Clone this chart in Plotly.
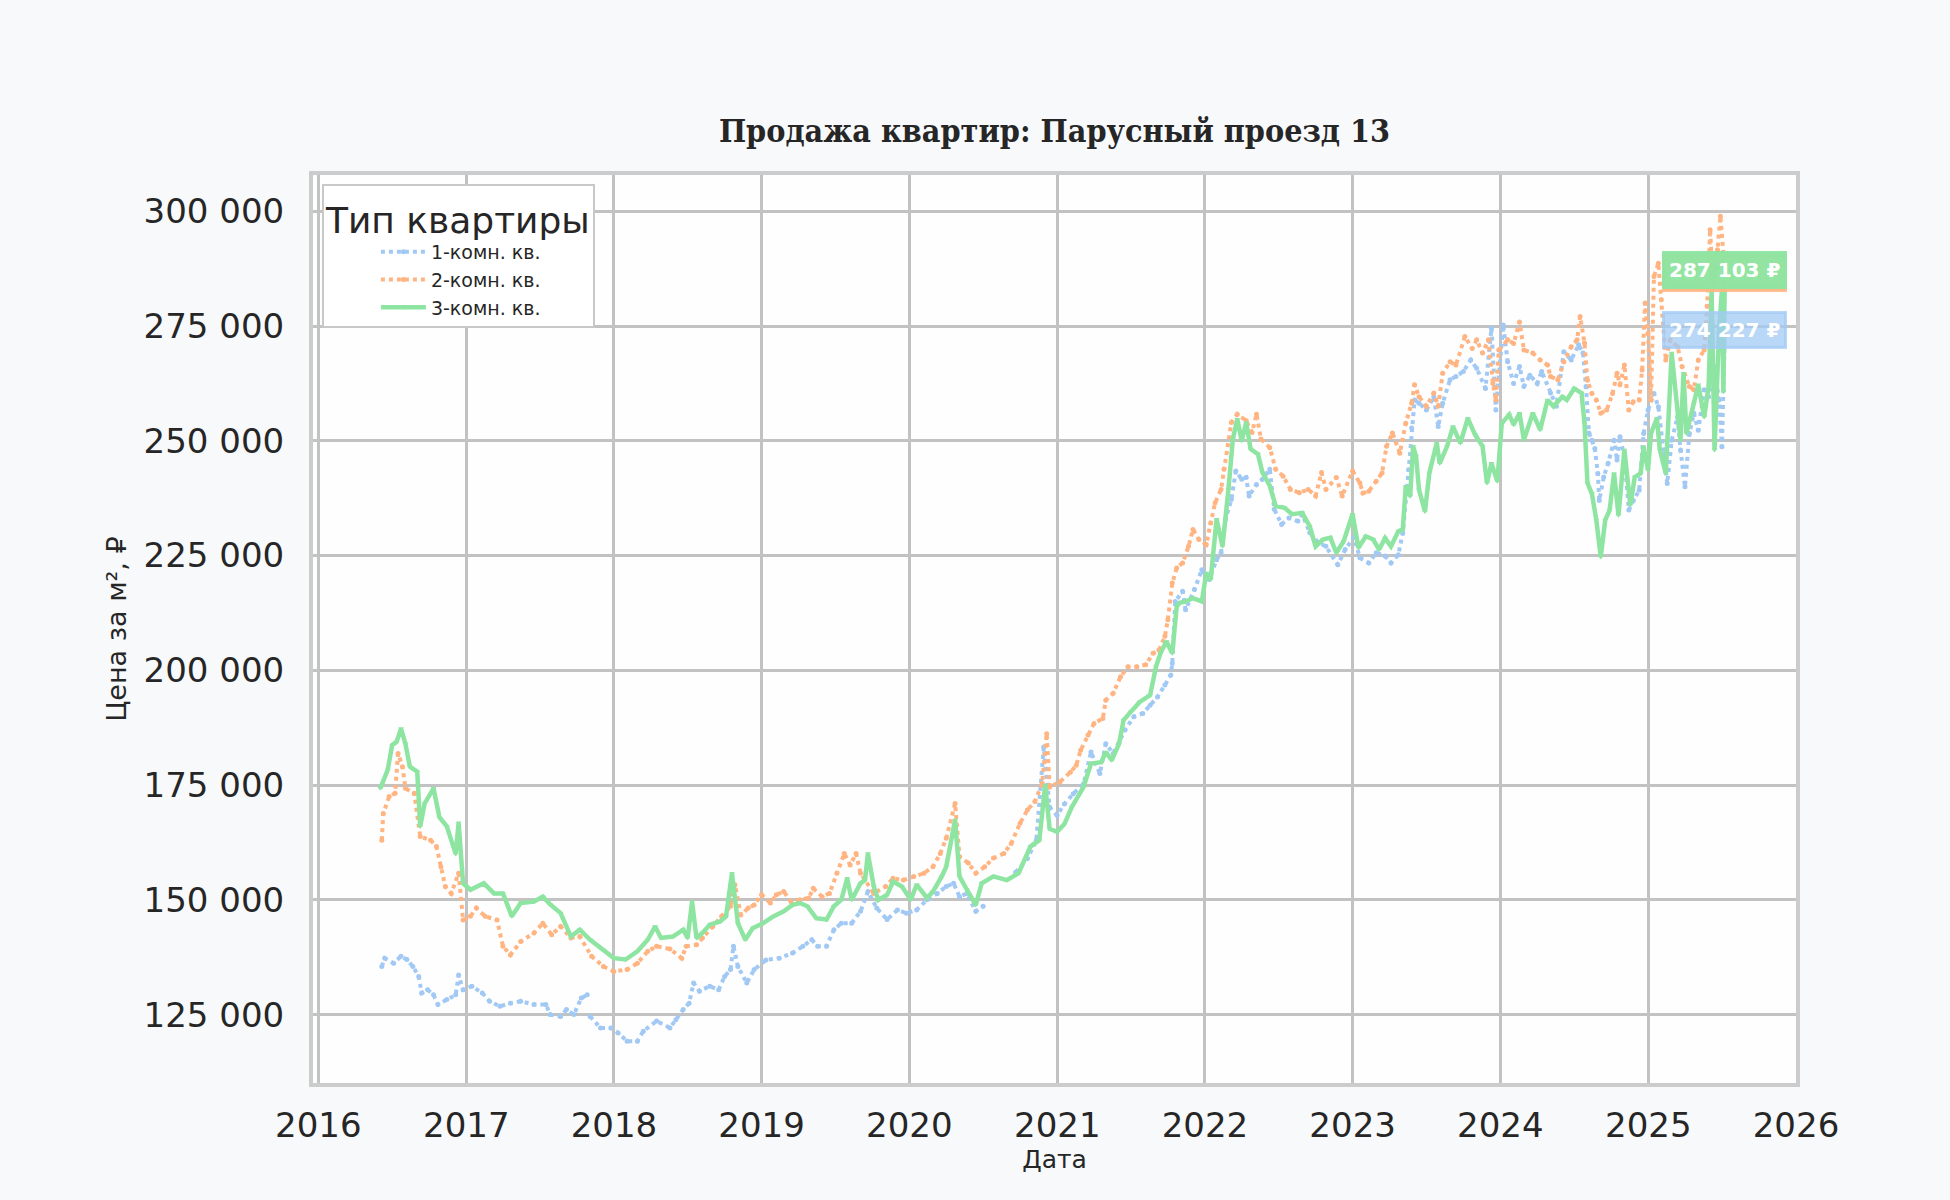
import pandas as pd
import plotly.graph_objects as go

# ===== data, years as decimal, prices in thousand RUB =====
yr_1k = [2016.43, 2016.45, 2016.51, 2016.56, 2016.60, 2016.64, 2016.68, 2016.70, 2016.74, 2016.78,
         2016.81, 2016.87, 2016.93, 2016.95, 2016.98, 2017.04, 2017.11, 2017.16, 2017.23, 2017.30,
         2017.37, 2017.46, 2017.54, 2017.57, 2017.64, 2017.68, 2017.73, 2017.78, 2017.82, 2017.83,
         2017.84, 2017.91, 2017.98, 2018.03, 2018.09, 2018.16, 2018.20, 2018.29, 2018.38, 2018.42,
         2018.47, 2018.51, 2018.54, 2018.58, 2018.65, 2018.71, 2018.75, 2018.79, 2018.81, 2018.84,
         2018.90, 2018.95, 2019.03, 2019.12, 2019.21, 2019.28, 2019.34, 2019.38, 2019.44, 2019.49,
         2019.54, 2019.61, 2019.67, 2019.72, 2019.78, 2019.85, 2019.92, 2019.98, 2020.05, 2020.12,
         2020.19, 2020.25, 2020.30, 2020.34, 2020.39, 2020.45, 2020.50, 2020.60, 2020.72, 2020.80,
         2020.86, 2020.91, 2020.95, 2021.00, 2021.05, 2021.11, 2021.18, 2021.23, 2021.29, 2021.33,
         2021.38, 2021.46, 2021.52, 2021.58, 2021.63, 2021.68, 2021.73, 2021.77, 2021.78, 2021.80,
         2021.85, 2021.87, 2021.93, 2021.98, 2022.03, 2022.08, 2022.11, 2022.14, 2022.18, 2022.21,
         2022.25, 2022.28, 2022.30, 2022.35, 2022.39, 2022.44, 2022.47, 2022.52, 2022.57, 2022.63,
         2022.66, 2022.71, 2022.77, 2022.82, 2022.90, 2022.95, 2023.01, 2023.05, 2023.11, 2023.16,
         2023.22, 2023.26, 2023.31, 2023.34, 2023.38, 2023.40, 2023.42, 2023.45, 2023.50, 2023.55,
         2023.58, 2023.61, 2023.66, 2023.70, 2023.75, 2023.80, 2023.84, 2023.90, 2023.94, 2023.97,
         2024.02, 2024.05, 2024.09, 2024.13, 2024.16, 2024.20, 2024.25, 2024.28, 2024.34, 2024.38,
         2024.43, 2024.48, 2024.53, 2024.56, 2024.58, 2024.60, 2024.62, 2024.64, 2024.66, 2024.67,
         2024.70, 2024.73, 2024.77, 2024.79, 2024.81, 2024.84, 2024.87, 2024.90, 2024.94, 2024.97,
         2025.00, 2025.04, 2025.07, 2025.11, 2025.13, 2025.16, 2025.20, 2025.22, 2025.25, 2025.28,
         2025.31, 2025.34, 2025.38, 2025.41, 2025.45, 2025.48, 2025.50, 2025.52]
price_1k = [135.5, 137.3, 136.2, 137.7, 137.0, 135.5, 133.3, 129.7, 130.4, 129.3,
            127.2, 128.3, 129.3, 133.6, 130.4, 131.2, 129.7, 127.9, 126.8, 127.5,
            127.9, 127.2, 127.2, 125.0, 124.6, 126.1, 125.0, 128.6, 129.3, None,
            124.6, 122.1, 122.1, 121.0, 119.2, 119.2, 121.4, 123.6, 122.1, 123.9,
            126.1, 127.5, 131.9, 130.1, 131.2, 130.4, 133.3, 134.8, 139.9, 135.5,
            131.9, 134.8, 136.9, 137.3, 138.4, 139.9, 141.3, 139.9, 139.9, 143.5,
            144.9, 144.9, 147.5, 151.8, 148.2, 145.7, 147.8, 147.1, 147.8, 150.0,
            151.4, 152.9, 153.6, 150.7, 151.4, 147.5, 148.6, None, 156.0, 159.0,
            163.0, 183.3, 170.2, 168.4, 170.9, 173.1, 175.3, 182.2, 177.5, 184.0,
            181.9, 187.0, 189.9, 190.6, 192.4, 194.2, 196.8, 199.0, 201.5, 215.0,
            217.2, 213.2, 217.6, 221.9, 219.8, 224.1, 225.6, 232.9, 237.2, 243.4,
            241.6, 242.0, 238.0, 240.5, 241.6, 243.8, 235.1, 231.8, 233.2, 232.5,
            234.0, 230.0, 227.8, 227.0, 223.0, 226.3, 229.0, 224.5, 223.4, 225.6,
            224.9, 223.4, 225.2, 229.9, 243.7, 252.8, 258.9, 258.2, 256.7, 259.6,
            253.1, 258.2, 263.3, 264.0, 265.1, 267.6, 265.8, 261.4, 274.5, 256.7,
            275.2, 267.2, 262.5, 266.2, 261.8, 264.3, 262.5, 265.1, 260.4, 257.5,
            269.4, 267.6, 270.9, 269.1, 261.8, 251.7, 250.1, 248.3, 242.9, 237.0,
            242.1, 245.1, 250.1, 245.8, 250.9, 246.5, 234.9, 237.0, 239.2, 251.6,
            256.7, 260.3, 257.4, 247.2, 240.7, 250.1, 255.2, 248.0, 240.0, 251.6,
            256.0, 252.3, 261.1, 259.6, 266.2, 258.9, 248.7, 274.227]

yr_2k = [2016.43, 2016.44, 2016.48, 2016.52, 2016.54, 2016.57, 2016.59, 2016.65, 2016.69, 2016.76,
         2016.80, 2016.83, 2016.86, 2016.90, 2016.95, 2016.98, 2017.03, 2017.07, 2017.13, 2017.21,
         2017.25, 2017.30, 2017.37, 2017.46, 2017.52, 2017.58, 2017.64, 2017.71, 2017.77, 2017.85,
         2017.93, 2018.00, 2018.09, 2018.16, 2018.23, 2018.29, 2018.38, 2018.46, 2018.49, 2018.56,
         2018.60, 2018.67, 2018.73, 2018.79, 2018.82, 2018.86, 2018.91, 2018.95, 2019.00, 2019.06,
         2019.10, 2019.15, 2019.20, 2019.26, 2019.32, 2019.35, 2019.41, 2019.46, 2019.51, 2019.56,
         2019.60, 2019.64, 2019.67, 2019.76, 2019.84, 2019.89, 2019.96, 2020.03, 2020.10, 2020.16,
         2020.21, 2020.25, 2020.31, 2020.34, 2020.40, 2020.45, 2020.51, 2020.57, 2020.64, 2020.69,
         2020.75, 2020.80, 2020.85, 2020.90, 2020.93, 2020.95, 2021.02, 2021.09, 2021.13, 2021.16,
         2021.21, 2021.25, 2021.31, 2021.33, 2021.38, 2021.43, 2021.48, 2021.54, 2021.60, 2021.65,
         2021.69, 2021.73, 2021.75, 2021.78, 2021.81, 2021.85, 2021.89, 2021.92, 2021.96, 2022.01,
         2022.04, 2022.07, 2022.11, 2022.13, 2022.18, 2022.22, 2022.28, 2022.32, 2022.35, 2022.38,
         2022.44, 2022.48, 2022.53, 2022.58, 2022.64, 2022.70, 2022.75, 2022.79, 2022.82, 2022.89,
         2022.93, 2023.00, 2023.05, 2023.07, 2023.11, 2023.16, 2023.20, 2023.23, 2023.27, 2023.32,
         2023.36, 2023.40, 2023.42, 2023.45, 2023.50, 2023.55, 2023.58, 2023.61, 2023.66, 2023.70,
         2023.76, 2023.81, 2023.84, 2023.88, 2023.92, 2023.95, 2023.97, 2023.99, 2024.05, 2024.09,
         2024.13, 2024.16, 2024.22, 2024.27, 2024.32, 2024.34, 2024.39, 2024.43, 2024.48, 2024.52,
         2024.54, 2024.57, 2024.59, 2024.62, 2024.65, 2024.68, 2024.72, 2024.76, 2024.79, 2024.81,
         2024.84, 2024.87, 2024.90, 2024.94, 2024.96, 2024.98, 2025.00, 2025.02, 2025.04, 2025.07,
         2025.09, 2025.12, 2025.15, 2025.20, 2025.23, 2025.28, 2025.31, 2025.34, 2025.38, 2025.40,
         2025.42, 2025.44, 2025.47, 2025.49, 2025.52]
price_2k = [163.0, 168.8, 172.5, 173.2, 181.9, 179.0, 174.3, 173.2, 163.8, 163.0,
            161.6, 157.2, 152.9, 151.4, 155.8, 145.6, 146.4, 148.2, 146.4, 145.6,
            139.9, 138.0, 140.9, 142.8, 144.9, 142.4, 144.2, 141.7, 142.0, 137.7,
            135.5, 134.4, 134.8, 136.2, 138.8, 139.9, 139.3, 137.3, 139.9, 140.2,
            141.7, 144.2, 146.4, 148.6, 153.3, 146.7, 148.2, 148.9, 151.1, 149.3,
            151.1, 151.8, 149.6, 150.0, 150.4, 152.5, 150.7, 151.4, 155.8, 160.1,
            157.6, 160.1, 155.8, 151.4, 152.9, 154.7, 154.3, 155.1, 155.8, 157.2,
            160.1, 163.4, 171.0, 159.4, 158.0, 155.8, 157.2, 159.1, 160.1, 162.3,
            166.7, 169.6, 171.4, 175.4, 186.2, 174.6, 175.7, 177.8, 179.3, 182.6,
            185.9, 188.4, 189.5, 193.5, 195.0, 198.6, 200.8, 200.8, 201.2, 203.7,
            204.4, 207.4, 211.0, 219.0, 222.3, 223.4, 227.0, 230.7, 228.5, 227.4,
            232.1, 236.5, 239.4, 243.8, 254.0, 255.8, 254.4, 251.8, 255.8, 250.4,
            248.5, 243.8, 242.3, 239.4, 238.7, 239.4, 238.0, 243.1, 239.4, 242.0,
            238.0, 243.4, 240.8, 238.6, 239.0, 241.2, 243.0, 248.8, 251.7, 247.3,
            253.8, 258.2, 262.2, 259.6, 257.5, 260.4, 257.5, 264.7, 267.2, 266.5,
            272.7, 270.1, 272.0, 269.1, 272.0, 262.5, 258.9, 269.8, 272.0, 271.2,
            275.9, 269.8, 269.1, 267.6, 266.5, 264.0, 263.3, 267.2, 270.5, 272.0,
            277.1, 271.3, 263.2, 260.3, 258.9, 256.0, 256.7, 260.3, 264.7, 262.2,
            266.5, 256.7, 258.5, 258.9, 265.4, 280.0, 273.4, 258.9, 285.8, 288.7,
            280.7, 267.6, 272.0, 270.5, 266.2, 261.8, 261.1, 267.6, 269.8, 279.3,
            296.0, 283.6, 291.6, 298.9, 286.614]

yr_3k = [2016.42, 2016.47, 2016.50, 2016.53, 2016.56, 2016.59, 2016.62, 2016.67, 2016.69, 2016.72,
         2016.78, 2016.82, 2016.87, 2016.93, 2016.95, 2016.98, 2017.03, 2017.12, 2017.19, 2017.25,
         2017.31, 2017.37, 2017.46, 2017.52, 2017.57, 2017.64, 2017.71, 2017.77, 2017.84, 2017.93,
         2018.00, 2018.08, 2018.16, 2018.23, 2018.28, 2018.32, 2018.40, 2018.47, 2018.50, 2018.53,
         2018.56, 2018.60, 2018.65, 2018.72, 2018.76, 2018.80, 2018.84, 2018.89, 2018.94, 2019.01,
         2019.08, 2019.15, 2019.21, 2019.26, 2019.31, 2019.37, 2019.44, 2019.49, 2019.54, 2019.58,
         2019.61, 2019.67, 2019.70, 2019.72, 2019.76, 2019.79, 2019.85, 2019.89, 2019.95, 2020.01,
         2020.05, 2020.12, 2020.16, 2020.22, 2020.25, 2020.31, 2020.34, 2020.39, 2020.45, 2020.49,
         2020.57, 2020.66, 2020.74, 2020.82, 2020.88, 2020.92, 2020.95, 2021.00, 2021.05, 2021.10,
         2021.18, 2021.23, 2021.30, 2021.33, 2021.37, 2021.42, 2021.45, 2021.50, 2021.56, 2021.63,
         2021.67, 2021.70, 2021.74, 2021.78, 2021.81, 2021.83, 2021.87, 2021.92, 2021.98, 2022.01,
         2022.04, 2022.08, 2022.12, 2022.16, 2022.19, 2022.22, 2022.25, 2022.28, 2022.31, 2022.36,
         2022.39, 2022.44, 2022.48, 2022.54, 2022.59, 2022.66, 2022.71, 2022.75, 2022.80, 2022.85,
         2022.89, 2022.94, 2023.00, 2023.04, 2023.09, 2023.14, 2023.18, 2023.22, 2023.26, 2023.31,
         2023.34, 2023.36, 2023.39, 2023.41, 2023.43, 2023.45, 2023.49, 2023.52, 2023.57, 2023.59,
         2023.64, 2023.68, 2023.73, 2023.78, 2023.83, 2023.88, 2023.91, 2023.94, 2023.98, 2024.01,
         2024.06, 2024.09, 2024.13, 2024.16, 2024.22, 2024.27, 2024.32, 2024.36, 2024.42, 2024.45,
         2024.50, 2024.55, 2024.57, 2024.59, 2024.62, 2024.65, 2024.68, 2024.71, 2024.74, 2024.77,
         2024.80, 2024.84, 2024.88, 2024.91, 2024.95, 2024.97, 2025.00, 2025.02, 2025.06, 2025.08,
         2025.12, 2025.16, 2025.20, 2025.22, 2025.24, 2025.26, 2025.31, 2025.34, 2025.38, 2025.41,
         2025.43, 2025.45, 2025.48, 2025.50, 2025.51, 2025.52]
price_3k = [174.3, 178.3, 183.7, 184.4, 187.3, 184.0, 179.0, 177.9, 166.0, 171.0,
            174.3, 168.0, 166.0, 160.0, 166.8, 153.6, 152.2, 153.6, 151.4, 151.4,
            146.4, 149.3, 149.6, 150.7, 149.0, 147.1, 142.0, 143.5, 141.3, 139.1,
            137.3, 137.0, 138.8, 141.3, 144.2, 141.7, 142.0, 143.5, 141.7, 149.6,
            141.7, 142.8, 144.6, 145.3, 146.4, 155.8, 144.9, 141.3, 143.8, 144.9,
            146.4, 147.5, 148.9, 149.3, 148.6, 146.0, 145.7, 148.6, 150.0, 154.7,
            150.0, 153.6, 154.3, 160.1, 152.9, 150.0, 151.1, 154.0, 152.9, 150.0,
            153.3, 150.4, 151.8, 155.1, 157.2, 167.4, 155.1, 152.2, 148.9, 153.6,
            155.1, 154.3, 155.8, 161.6, 163.0, 175.0, 165.5, 164.8, 166.5, 170.2,
            174.6, 179.7, 180.0, 182.2, 180.4, 184.0, 189.1, 191.0, 193.1, 194.6,
            200.8, 203.7, 206.3, 203.7, 213.9, 214.7, 215.0, 215.7, 215.0, 221.2,
            219.8, 232.9, 227.0, 239.4, 250.4, 254.7, 250.0, 254.0, 248.2, 247.1,
            243.1, 240.2, 235.8, 235.4, 234.0, 234.3, 231.4, 227.0, 228.5, 228.9,
            225.6, 228.1, 234.0, 226.7, 229.2, 228.5, 226.3, 228.8, 227.0, 230.3,
            230.7, 240.1, 237.9, 248.8, 246.6, 239.3, 234.6, 243.0, 249.5, 245.1,
            248.8, 253.1, 249.5, 254.9, 251.3, 248.8, 240.8, 245.1, 241.2, 253.8,
            255.7, 253.5, 256.0, 250.2, 256.0, 252.4, 258.9, 257.5, 259.6, 258.9,
            261.4, 260.4, 253.8, 240.8, 238.5, 232.7, 224.7, 232.7, 234.9, 242.9,
            233.8, 248.0, 236.0, 242.1, 242.9, 248.7, 243.6, 251.6, 254.9, 248.0,
            242.9, 269.1, 255.2, 250.1, 264.7, 251.6, 258.2, 262.2, 255.2, 261.8,
            282.9, 248.0, 273.4, 282.9, 260.7, 287.103]

series_names = ["1-комн. кв.", "2-комн. кв.", "3-комн. кв."]
colors = ["#a1c9f4", "#ffb482", "#8de5a1"]
label_bg = ["rgba(161,201,244,0.75)", "rgba(255,180,130,0.85)", "rgba(141,229,161,0.95)"]


def to_dates(years):
    base = pd.Timestamp("2016-01-01")
    return [base + pd.Timedelta(days=(y - 2016) * 365.25) for y in years]


def to_rub(vals):
    return [None if v is None else v * 1000 for v in vals]


fig = go.Figure()

styles = [
    dict(dash="dot", width=4, symbol="circle"),
    dict(dash="dot", width=4, symbol="circle"),
    dict(dash="solid", width=4.5, symbol="triangle-down"),
]
all_years = [yr_1k, yr_2k, yr_3k]
all_prices = [price_1k, price_2k, price_3k]

for name, col, st, yrs, vals in zip(series_names, colors, styles, all_years, all_prices):
    fig.add_trace(go.Scatter(
        x=to_dates(yrs), y=to_rub(vals), name=name,
        mode="lines+markers",
        line=dict(color=col, width=st["width"], dash=st["dash"]),
        marker=dict(color=col, size=5, symbol=st["symbol"]),
        connectgaps=False,
    ))

# ===== last value labels (orange under green, like the source) =====
for i in [0, 1, 2]:
    last_x = to_dates(all_years[i])[-1]
    last_y = all_prices[i][-1] * 1000
    txt = f"{round(last_y):,}".replace(",", " ") + " ₽"
    fig.add_annotation(
        x=last_x, y=last_y, text=f"<b>{txt}</b>", showarrow=False,
        xanchor="center", yanchor="middle",
        font=dict(family="DejaVu Sans", size=20, color="white"),
        bgcolor=label_bg[i], bordercolor=label_bg[i], borderwidth=3, borderpad=4,
    )

fig.update_layout(
    width=1950, height=1200,
    paper_bgcolor="#f8f9fb",
    plot_bgcolor="#fefefe",
    separators=", ",
    margin=dict(l=313, r=154, t=175, b=117),
    font=dict(family="DejaVu Sans", color="#262626"),
    title=dict(
        text="Продажа квартир: Парусный проезд 13",
        x=0.5, xref="paper", xanchor="center",
        y=1 - 131 / 1200, yanchor="middle",
        font=dict(family="DejaVu Serif Condensed", size=32, color="#262626", weight="bold"),
    ),
    legend=dict(
        x=0.006, y=0.99, xanchor="left", yanchor="top",
        bgcolor="white", bordercolor="#c8c8c8", borderwidth=2,
        title=dict(text="Тип квартиры", font=dict(size=36, color="#262626")),
        font=dict(size=19, color="#262626"),
        itemwidth=45, indentation=52,
    ),
    showlegend=True,
)

fig.update_xaxes(
    type="date",
    range=["2015-12-19", "2026-01-01"],
    dtick="M12", tick0="2016-01-01", tickformat="%Y",
    showgrid=True, gridcolor="#c2c2c2", gridwidth=2.5,
    showline=True, linecolor="#cccccc", linewidth=4, mirror=True,
    zeroline=False,
    tickfont=dict(size=34, color="#262626"),
    ticklabelstandoff=9,
    title=dict(text="Дата", font=dict(size=25, color="#262626"), standoff=8),
)
fig.update_yaxes(
    range=[110100, 307900],
    dtick=25000, tick0=0, tickformat=",d",
    showgrid=True, gridcolor="#c2c2c2", gridwidth=2.5,
    showline=True, linecolor="#cccccc", linewidth=4, mirror=True,
    zeroline=False,
    tickfont=dict(size=34, color="#262626"),
    ticklabelstandoff=18,
    title=dict(text="Цена за м², ₽", font=dict(size=27, color="#262626"), standoff=10),
)

fig.write_html(
    "out.html",
    config={"displayModeBar": False},
    post_script="document.body.style.margin='0';document.body.style.background='#f8f9fb';",
)
